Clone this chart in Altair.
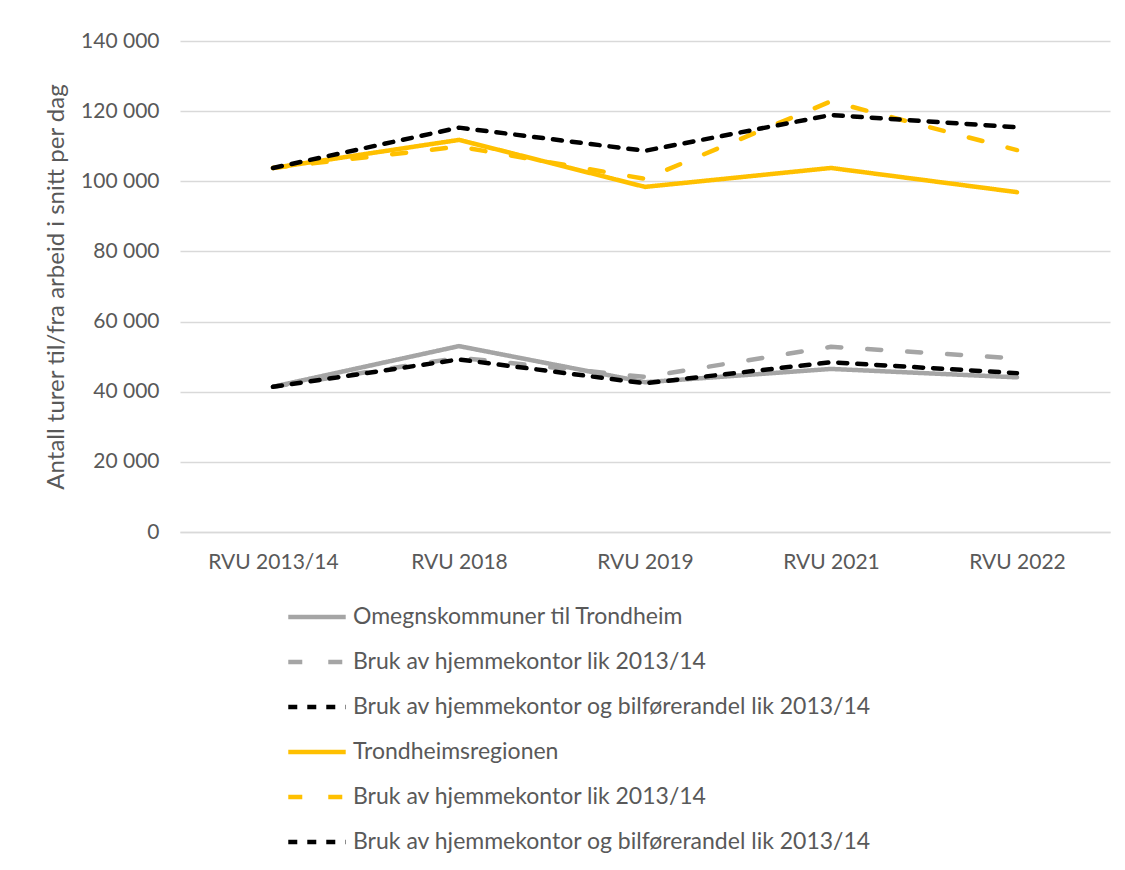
import altair as alt
import pandas as pd

surveys = ["RVU 2013/14", "RVU 2018", "RVU 2019", "RVU 2021", "RVU 2022"]

series_keys = ["s1", "s2", "s3", "s4", "s5", "s6"]
series_labels = [
    "Omegnskommuner til Trondheim",
    "Bruk av hjemmekontor lik 2013/14",
    "Bruk av hjemmekontor og bilførerandel lik 2013/14",
    "Trondheimsregionen",
    "Bruk av hjemmekontor lik 2013/14",
    "Bruk av hjemmekontor og bilførerandel lik 2013/14",
]
series_colors = ["#A5A5A5", "#A5A5A5", "#000000", "#FFC000", "#FFC000", "#000000"]
series_dashes = [[1, 0], [14, 26], [9, 10], [1, 0], [14, 26], [9, 10]]

omegn = [41400, 53000, 42700, 46500, 44100]
omegn_hjem = [41400, 49700, 44200, 52800, 49500]
omegn_hjem_bil = [41400, 49200, 42400, 48400, 45300]
region = [103800, 111800, 98400, 103800, 96900]
region_hjem = [103800, 109900, 100700, 122800, 108900]
region_hjem_bil = [103800, 115300, 108700, 118900, 115400]

values = [omegn, omegn_hjem, omegn_hjem_bil, region, region_hjem, region_hjem_bil]

rows = []
for key, vals in zip(series_keys, values):
    for s, v in zip(surveys, vals):
        rows.append({"survey": s, "series": key, "value": v})
df = pd.DataFrame(rows)

label_map = "{" + ", ".join(f"'{k}': '{l}'" for k, l in zip(series_keys, series_labels)) + "}"

font = "Lato"
txt = "#595959"

chart = alt.Chart(df).mark_line(strokeWidth=4.5, strokeCap="round", strokeJoin="round").encode(
    x=alt.X("survey:N", sort=surveys, scale=alt.Scale(type="point", padding=0.5),
            axis=alt.Axis(title=None, labelAngle=0, labelFontSize=21, labelColor=txt, labelFont=font,
                          ticks=False, domainColor="#D9D9D9", domainWidth=1.5, labelPadding=19, grid=False)),
    y=alt.Y("value:Q", scale=alt.Scale(domain=[0, 140000], nice=False),
            axis=alt.Axis(title="Antall turer til/fra arbeid i snitt per dag", values=list(range(0, 140001, 20000)),
                          labelExpr="replace(format(datum.value, ','), regexp(',', 'g'), ' ')",
                          labelFontSize=21, labelColor=txt, labelFont=font, ticks=False, domain=False,
                          labelPadding=21, gridColor="#D9D9D9", gridWidth=1.5,
                          titleFontSize=24, titleFont=font, titleColor=txt, titleFontWeight="normal",
                          titlePadding=12)),
    color=alt.Color("series:N", scale=alt.Scale(domain=series_keys, range=series_colors),
                    legend=alt.Legend(title=None, orient="none", legendX=106, legendY=545, direction="vertical",
                                      labelExpr=label_map + "[datum.label]", labelFontSize=23, labelColor=txt,
                                      labelFont=font, symbolType="stroke", symbolSize=3300, symbolStrokeWidth=4.5,
                                      rowPadding=2, labelOffset=5, labelLimit=700)),
    strokeDash=alt.StrokeDash("series:N", scale=alt.Scale(domain=series_keys, range=series_dashes), legend=None),
    order=alt.Order("series:N"),
).properties(
    width=930, height=491,
    autosize=alt.AutoSizeParams(type="none"),
    padding={"left": 172, "top": 33, "right": 7, "bottom": 330},
).configure(background="white").configure_view(stroke=None)

chart.save("out.html", embed_options={"renderer": "svg", "actions": False})
